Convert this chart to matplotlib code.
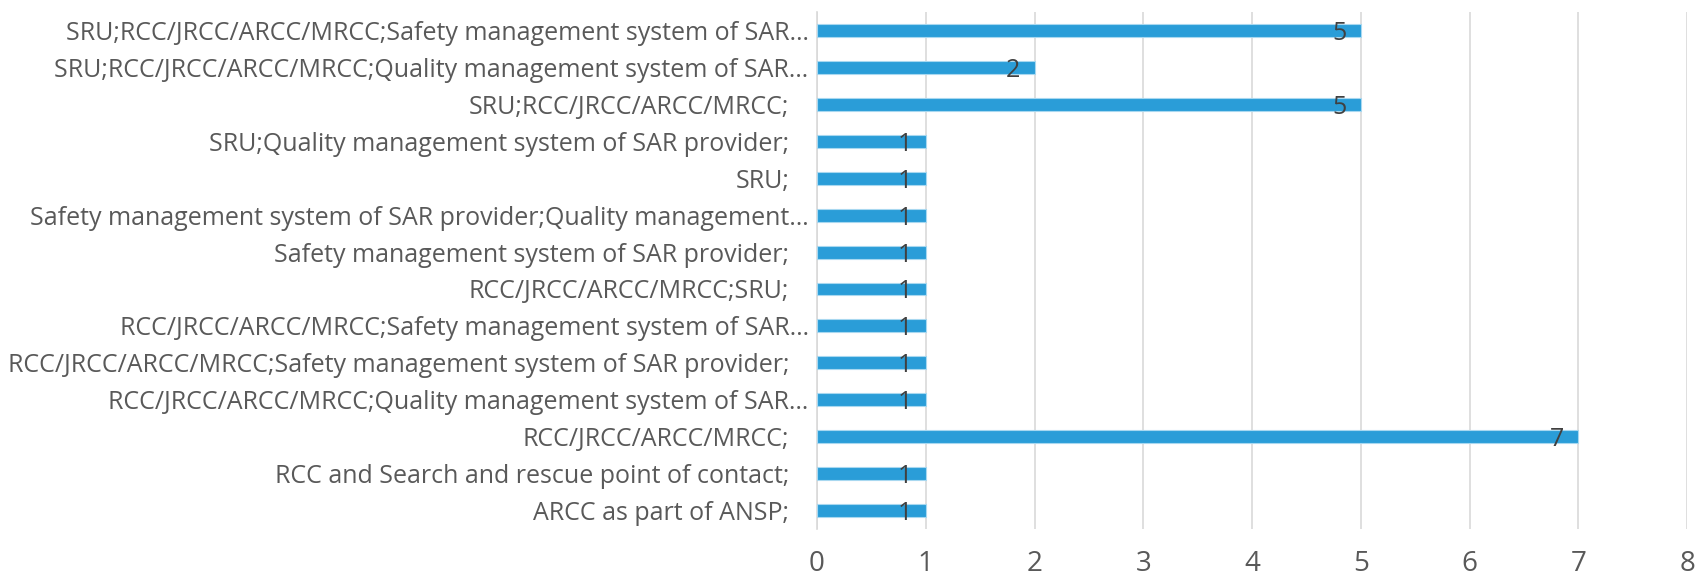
import matplotlib
matplotlib.use("Agg")
import matplotlib.pyplot as plt

# categories listed bottom -> top, as they sit on the axis
categories = [
    "ARCC as part of ANSP;",
    "RCC and Search and rescue point of contact;",
    "RCC/JRCC/ARCC/MRCC;",
    "RCC/JRCC/ARCC/MRCC;Quality management system of SAR\u2026",
    "RCC/JRCC/ARCC/MRCC;Safety management system of SAR provider;",
    "RCC/JRCC/ARCC/MRCC;Safety management system of SAR\u2026",
    "RCC/JRCC/ARCC/MRCC;SRU;",
    "Safety management system of SAR provider;",
    "Safety management system of SAR provider;Quality management\u2026",
    "SRU;",
    "SRU;Quality management system of SAR provider;",
    "SRU;RCC/JRCC/ARCC/MRCC;",
    "SRU;RCC/JRCC/ARCC/MRCC;Quality management system of SAR\u2026",
    "SRU;RCC/JRCC/ARCC/MRCC;Safety management system of SAR\u2026",
]
counts = [1, 1, 7, 1, 1, 1, 1, 1, 1, 1, 1, 5, 2, 5]
x_ticks = [0, 1, 2, 3, 4, 5, 6, 7, 8]

plt.rcParams['font.family'] = ['Open Sans', 'DejaVu Sans']

fig = plt.figure(figsize=(16.99, 5.76), dpi=100)
ax = fig.add_axes([0.4809, 0.0816, 0.5121, 0.8975])

ypos = list(range(len(categories)))
ax.barh(ypos, counts, height=0.35, color='#2A9DD8', edgecolor='#A8D8F0', linewidth=0.8, zorder=3)

for y, v in zip(ypos, counts):
    ax.annotate(str(v), xy=(v, y), xytext=(-14, -3), textcoords='offset pixels',
                ha='right', va='center', fontsize=18, color='#404040', zorder=4)

ax.set_xlim(0, 8)
ax.set_ylim(-0.5, len(categories) - 0.5)
ax.set_xticks(x_ticks)
ax.set_yticks(ypos)
ax.set_yticklabels(categories)
ax.tick_params(axis='x', length=0, labelsize=20, labelcolor='#595959', pad=15)
ax.tick_params(axis='y', length=0, labelsize=18, labelcolor='#595959')

# labels that were not cut off sit a bit further from the axis
for tick, lab in zip(ax.yaxis.get_major_ticks(), categories):
    tick.set_pad(6 if lab.endswith('\u2026') else 20)

ax.grid(True, axis='x', color='#D9D9D9', linewidth=1.2, zorder=0)
for s in ['top', 'right', 'bottom']:
    ax.spines[s].set_visible(False)
ax.spines['left'].set_color('#D9D9D9')
ax.spines['left'].set_linewidth(1.2)

plt.savefig('out.png', dpi=100)
plt.close()
